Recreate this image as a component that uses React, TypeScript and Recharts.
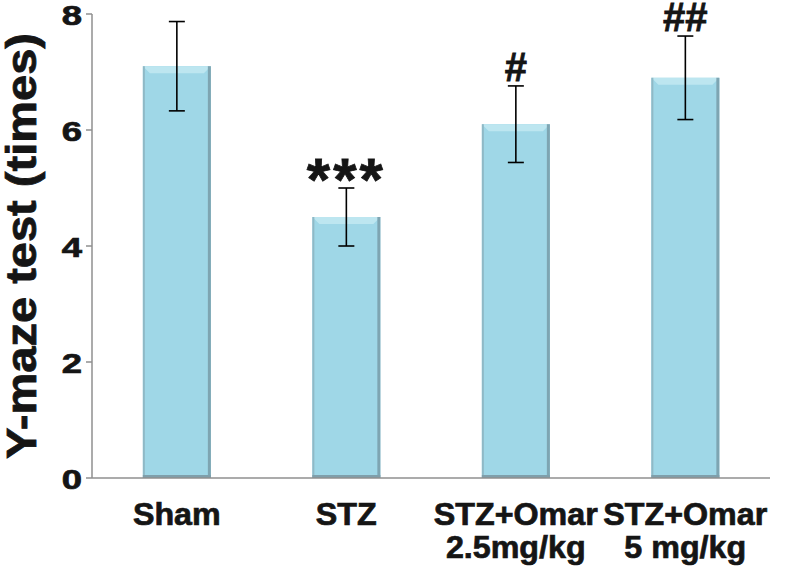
import React from 'react';
import { BarChart, Bar, XAxis, YAxis, ErrorBar, LabelList } from 'recharts';

// values
const groups = ['Sham', 'STZ', 'STZ+Omar\n2.5mg/kg', 'STZ+Omar\n5 mg/kg'];
const means = [7.1, 4.5, 6.1, 6.9];
const sems = [0.77, 0.5, 0.66, 0.72];
const marks = ['', '***', '#', '##'];
const yTicks = [0, 2, 4, 6, 8];
const edges = [0, 1, 2, 3, 4];

const data = groups.map((g, i) => ({ group: g, mean: means[i], sem: sems[i], mark: marks[i] }));

const FONT = '"Liberation Sans", Arial, sans-serif';
const AXIS = '#8f8f8f';
const INK = '#151515';

function BevelBar(props: any) {
  const { x, y, width: w, height: h } = props;
  if (!h || h <= 0) return null;
  const b = 7;
  return (
    <g>
      <rect x={x} y={y} width={w} height={h} fill="#9fd7e7" />
      <polygon
        points={`${x},${y} ${x + w},${y} ${x + w - b},${y + b} ${x + b},${y + b}`}
        fill="#bde6f0"
      />
      <rect x={x} y={y} width={2} height={h} fill="#8fb9c6" />
      <rect x={x + w - 3} y={y} width={3} height={h} fill="#7ea5b2" />
      <rect x={x} y={y + h - 3} width={w} height={3} fill="#7f9fab" />
    </g>
  );
}

function XTick({ x, y, payload }: any) {
  const lines = String(payload.value).split('\n');
  return (
    <g transform={`translate(${x},${y})`}>
      <text
        textAnchor="middle"
        fontFamily={FONT}
        fontWeight="bold"
        fontSize={31}
        fill={INK}
        stroke={INK}
        strokeWidth={0.7}
        transform="scale(1.04,1)"
      >
        {lines.map((l, i) => (
          <tspan key={i} x={0} y={39 + i * 33}>
            {l}
          </tspan>
        ))}
      </text>
    </g>
  );
}

function YTick({ x, y, payload }: any) {
  return (
    <g transform={`translate(${x},${y})`}>
      <text
        textAnchor="end"
        dy="0.4em"
        fontFamily={FONT}
        fontWeight="bold"
        fontSize={27}
        fill={INK}
        stroke={INK}
        strokeWidth={0.7}
        transform="scale(1.35,1)"
      >
        {payload.value}
      </text>
    </g>
  );
}

function SigLabel(props: any) {
  const { x, y, width, height, value, index } = props;
  if (!value) return null;
  const errTop = y - (sems[index] * height) / means[index];
  const star = String(value).includes('*');
  return (
    <text
      x={x + width / 2}
      y={star ? errTop + 12 : errTop - 5}
      textAnchor="middle"
      fontFamily={FONT}
      fontWeight="bold"
      fontSize={star ? 60 : 40}
      letterSpacing={star ? 3 : 0}
      fill={INK}
      stroke={INK}
      strokeWidth={0.8}
    >
      {value}
    </text>
  );
}

function YTitle(props: any) {
  const vb = props.viewBox || {};
  const cy = (vb.y ?? 14) + (vb.height ?? 464) / 2;
  return (
    <text
      transform={`translate(36,${cy}) rotate(-90) scale(1.12,1)`}
      textAnchor="middle"
      fontFamily={FONT}
      fontWeight="bold"
      fontSize={42}
      fill={INK}
      stroke={INK}
      strokeWidth={0.8}
    >
      Y-maze test (times)
    </text>
  );
}

export default function App() {
  return (
    <div style={{ position: 'absolute', left: 0, top: 0, width: 800, height: 571, background: '#fff' }}>
      <BarChart width={800} height={571} data={data} margin={{ top: 14, right: 30, left: 0, bottom: 0 }} barCategoryGap="30%">
        <XAxis
          xAxisId="edges"
          type="number"
          domain={[0, 4]}
          ticks={edges}
          height={0}
          axisLine={false}
          tickLine={{ stroke: AXIS, strokeWidth: 1.5 }}
          tickSize={6}
          tick={() => <g />}
        />
        <XAxis
          dataKey="group"
          height={93}
          axisLine={{ stroke: AXIS, strokeWidth: 1.5 }}
          tickLine={false}
          tick={<XTick />}
          interval={0}
        />
        <YAxis
          width={92}
          domain={[0, 8]}
          ticks={yTicks}
          axisLine={{ stroke: AXIS, strokeWidth: 1.5 }}
          tickLine={{ stroke: AXIS, strokeWidth: 1.5 }}
          tickSize={6}
          tickMargin={4}
          tick={<YTick />}
          label={{ content: <YTitle /> } as any}
        />
        <Bar dataKey="mean" shape={<BevelBar />} isAnimationActive={false}>
          <ErrorBar dataKey="sem" width={8} stroke="#000" strokeWidth={1.6} direction="y" />
          <LabelList dataKey="mark" content={<SigLabel />} />
        </Bar>
      </BarChart>
    </div>
  );
}
